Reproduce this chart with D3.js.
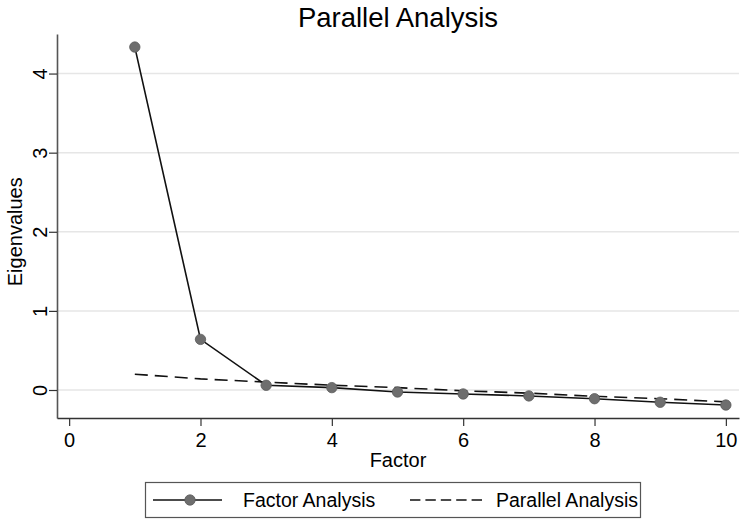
<!DOCTYPE html>
<html>
<head>
<meta charset="utf-8">
<script src="https://cdn.jsdelivr.net/npm/d3@7"></script>
<style>
  body { margin: 0; background: #fff; }
  text { font-family: "Liberation Sans", Arial, sans-serif; fill: #000; }
</style>
</head>
<body>
<div id="chart"></div>
<script>
// data
const factors = [1, 2, 3, 4, 5, 6, 7, 8, 9, 10];
const factorAnalysis = [4.335, 0.64, 0.06, 0.03, -0.025, -0.05, -0.075, -0.11, -0.155, -0.19];
const parallelAnalysis = [0.20, 0.14, 0.10, 0.06, 0.03, -0.01, -0.04, -0.08, -0.11, -0.15];
const xTicks = [0, 2, 4, 6, 8, 10];
const yTicks = [0, 1, 2, 3, 4];

const width = 744, height = 524;
const plot = { left: 57, right: 739, top: 34, bottom: 418 };

const svg = d3.select("#chart").append("svg")
    .attr("width", width)
    .attr("height", height);

const x = d3.scaleLinear()
    .domain([-0.185, 10.2])
    .range([plot.left, plot.right]);

const y = d3.scaleLinear()
    .domain([-0.354, 4.5])
    .range([plot.bottom, plot.top]);

// grid lines
svg.append("g")
    .selectAll("line")
    .data(yTicks)
    .enter().append("line")
    .attr("x1", plot.left)
    .attr("x2", plot.right)
    .attr("y1", d => y(d))
    .attr("y2", d => y(d))
    .attr("stroke", "#e6e6e6")
    .attr("stroke-width", 1.5);

// y axis
const yAxis = svg.append("g")
    .attr("transform", "translate(" + plot.left + ",0)")
    .call(d3.axisLeft(y).tickValues(yTicks).tickFormat(d3.format("d")).tickSize(8).tickSizeOuter(0));
yAxis.select(".domain").attr("stroke", "#555").attr("stroke-width", 1.6);
yAxis.selectAll(".tick line").attr("stroke", "#333").attr("stroke-width", 1.2);
yAxis.selectAll(".tick text")
    .attr("font-size", 20)
    .attr("text-anchor", "middle")
    .attr("x", 0)
    .attr("dy", 0)
    .attr("transform", "translate(-10,0) rotate(-90)");

// x axis
const xAxis = svg.append("g")
    .attr("transform", "translate(0," + plot.bottom + ")")
    .call(d3.axisBottom(x).tickValues(xTicks).tickSize(8).tickPadding(7).tickSizeOuter(0));
xAxis.select(".domain").attr("stroke", "#333").attr("stroke-width", 1.6);
xAxis.selectAll(".tick line").attr("stroke", "#333").attr("stroke-width", 1.2);
xAxis.selectAll(".tick text").attr("font-size", 20);

// axis titles
svg.append("text")
    .attr("x", (plot.left + plot.right) / 2)
    .attr("y", 467)
    .attr("text-anchor", "middle")
    .attr("font-size", 20)
    .text("Factor");

svg.append("text")
    .attr("transform", "translate(22," + y(2) + ") rotate(-90)")
    .attr("text-anchor", "middle")
    .attr("font-size", 20)
    .text("Eigenvalues");

// title
svg.append("text")
    .attr("x", (plot.left + plot.right) / 2)
    .attr("y", 27)
    .attr("text-anchor", "middle")
    .attr("font-size", 27.5)
    .text("Parallel Analysis");

// lines
const line = d3.line()
    .x((d, i) => x(factors[i]))
    .y(d => y(d));

svg.append("path")
    .datum(parallelAnalysis)
    .attr("d", line)
    .attr("fill", "none")
    .attr("stroke", "#111")
    .attr("stroke-width", 1.6)
    .attr("stroke-dasharray", "13,7");

svg.append("path")
    .datum(factorAnalysis)
    .attr("d", line)
    .attr("fill", "none")
    .attr("stroke", "#111")
    .attr("stroke-width", 1.6);

svg.append("g")
    .selectAll("circle")
    .data(factorAnalysis)
    .enter().append("circle")
    .attr("cx", (d, i) => x(factors[i]))
    .attr("cy", d => y(d))
    .attr("r", 5.2)
    .attr("fill", "#6e6e6e")
    .attr("stroke", "#5a5a5a")
    .attr("stroke-width", 0.8);

// legend
const legend = svg.append("g");
legend.append("rect")
    .attr("x", 145.5)
    .attr("y", 482.5)
    .attr("width", 495)
    .attr("height", 35)
    .attr("fill", "#fff")
    .attr("stroke", "#555")
    .attr("stroke-width", 1.2);

const ly = 500;
legend.append("line")
    .attr("x1", 153).attr("x2", 222)
    .attr("y1", ly).attr("y2", ly)
    .attr("stroke", "#111").attr("stroke-width", 1.6);
legend.append("circle")
    .attr("cx", 190).attr("cy", ly).attr("r", 5.2)
    .attr("fill", "#6e6e6e").attr("stroke", "#5a5a5a").attr("stroke-width", 0.8);
legend.append("text")
    .attr("x", 243).attr("y", ly + 7)
    .attr("font-size", 19.5)
    .text("Factor Analysis");

legend.append("line")
    .attr("x1", 410).attr("x2", 482)
    .attr("y1", ly).attr("y2", ly)
    .attr("stroke", "#111").attr("stroke-width", 1.6)
    .attr("stroke-dasharray", "10.4,5");
legend.append("text")
    .attr("x", 496).attr("y", ly + 7)
    .attr("font-size", 19.5)
    .text("Parallel Analysis");
</script>
</body>
</html>
